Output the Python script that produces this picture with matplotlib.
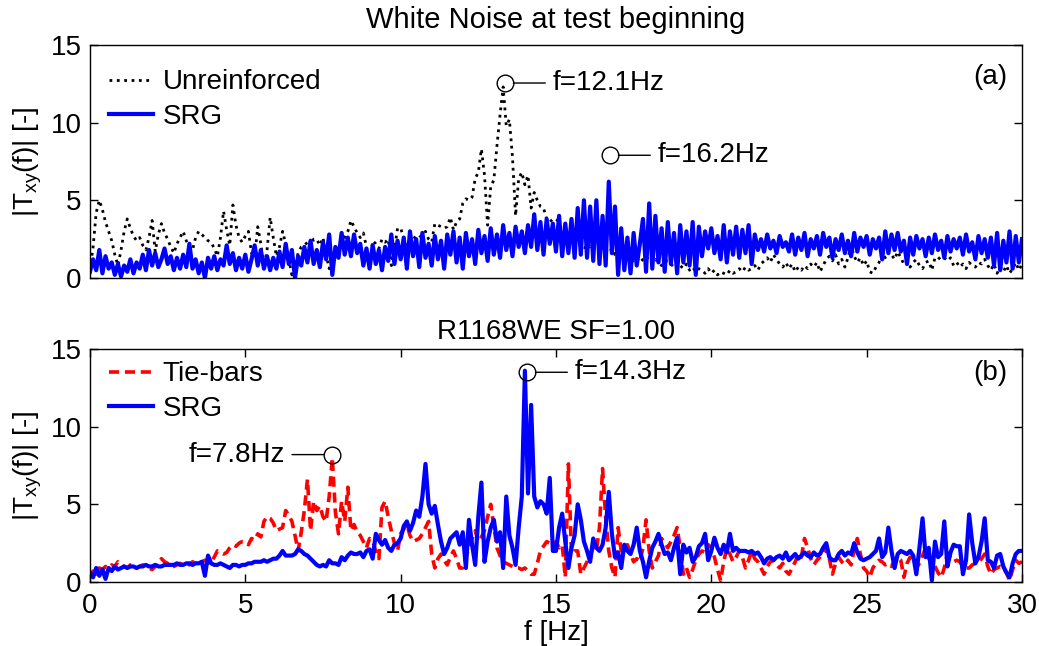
import numpy as np
import matplotlib
matplotlib.use("Agg")
import matplotlib.pyplot as plt

plt.rcParams["font.family"] = ["Liberation Sans", "DejaVu Sans"]
plt.rcParams["mathtext.fontset"] = "custom"
plt.rcParams["mathtext.rm"] = "Liberation Sans"

FS = 20

# ── Data: |Txy(f)| sampled every 0.1 Hz, 0 … 30 Hz (one row per Hz) ──
FREQ_STEP = 0.1

top_unreinforced = [
    0.5, 2.0, 4.2, 5.0, 4.4, 3.6, 3.0, 2.4, 1.5, 0.8,
    1.8, 3.0, 3.8, 3.2, 2.7, 2.4, 2.6, 2.1, 1.8, 2.6,
    3.7, 1.7, 2.8, 3.5, 2.9, 2.5, 2.0, 1.6, 2.2, 2.6,
    3.0, 2.4, 2.0, 1.8, 2.6, 3.0, 2.8, 2.6, 2.4, 2.3,
    1.9, 1.4, 2.6, 4.3, 3.1, 2.1, 4.7, 3.4, 2.6, 2.3,
    2.7, 3.0, 1.6, 1.3, 3.3, 2.2, 0.7, 1.8, 3.9, 2.6,
    1.4, 2.0, 3.0, 2.2, 1.2, 0.2, 0.8, 1.6, 2.0, 2.1,
    2.3, 2.0, 2.5, 2.5, 2.1, 2.6, 1.5, 0.6, 1.2, 1.9,
    1.9, 2.3, 2.6, 3.0, 3.7, 3.3, 2.9, 2.6, 2.9, 2.0,
    0.6, 2.4, 2.2, 1.9, 2.5, 2.3, 2.5, 0.8, 1.8, 3.2,
    3.2, 2.6, 2.1, 2.2, 2.7, 2.5, 2.6, 2.8, 3.0, 2.5,
    2.3, 3.5, 3.4, 3.3, 3.2, 3.3, 3.9, 3.1, 3.6, 3.8,
    4.8, 5.1, 5.0, 5.2, 6.4, 6.8, 8.3, 6.6, 3.4, 5.9,
    6.3, 8.5, 10.5, 12.3, 9.8, 10.2, 7.8, 4.0, 6.4, 6.8,
    6.0, 6.6, 4.5, 5.5, 5.0, 4.6, 4.5, 3.8, 3.6, 3.8,
    3.8, 3.6, 3.0, 2.6, 2.8, 2.4, 2.2, 2.6, 2.0, 1.8,
    2.2, 2.0, 2.4, 2.6, 2.3, 2.0, 1.8, 1.6, 1.9, 1.5,
    1.4, 1.6, 1.3, 1.2, 1.5, 1.1, 1.3, 1.0, 1.2, 1.4,
    1.1, 0.9, 1.2, 1.0, 0.8, 1.1, 1.1, 0.9, 0.7, 1.0,
    0.8, 0.6, 0.9, 0.5, 0.7, 0.4, 0.6, 0.5, 0.3, 0.6,
    0.3, 0.5, 0.2, 0.4, 0.3, 0.2, 0.5, 0.3, 0.4, 0.6,
    0.4, 0.7, 0.5, 0.6, 0.8, 0.5, 0.9, 1.1, 1.3, 1.0,
    1.5, 1.2, 0.9, 0.7, 1.0, 0.6, 0.9, 0.4, 0.7, 0.5,
    0.8, 0.6, 0.9, 0.7, 1.0, 0.4, 0.8, 1.2, 1.4, 1.1,
    1.5, 0.9, 1.2, 0.7, 1.3, 2.1, 1.4, 1.0, 1.3, 0.8,
    1.1, 0.4, 0.3, 0.7, 1.0, 1.6, 1.3, 1.7, 1.5, 1.2,
    1.7, 1.3, 0.9, 1.1, 0.7, 1.0, 1.2, 0.8, 0.6, 1.0,
    1.1, 0.5, 1.3, 1.2, 1.4, 1.3, 1.1, 1.3, 0.8, 1.0,
    0.7, 0.9, 0.6, 1.0, 0.8, 0.7, 1.0, 0.9, 1.2, 0.8,
    0.5, 0.9, 0.3, 0.7, 0.4, 0.8, 0.3, 0.6, 1.0, 0.5,
    0.9,
]

top_srg = [
    0.4, 1.2, 0.5, 1.8, 0.3, 1.4, 0.6, 1.0, 0.2, 0.9,
    0.1, 0.8, 0.4, 1.2, 0.3, 1.0, 0.6, 1.5, 0.5, 1.8,
    0.8, 1.6, 0.7, 1.2, 1.9, 0.9, 1.4, 0.5, 1.3, 0.6,
    1.5, 0.7, 2.2, 0.6, 1.2, 0.3, 1.0, 0.0, 1.3, 0.6,
    1.4, 0.5, 1.2, 0.8, 2.1, 0.9, 1.6, 0.5, 1.3, 0.6,
    1.5, 0.4, 1.2, 2.1, 0.8, 1.8, 0.6, 1.4, 0.5, 1.3,
    0.6, 1.7, 0.7, 2.2, 0.9, 1.8, 0.0, 1.4, 0.8, 2.0,
    1.0, 2.4, 0.9, 1.8, 0.7, 2.3, 1.2, 2.8, 0.2, 2.0,
    1.3, 2.9, 1.5, 2.6, 1.4, 2.8, 1.6, 2.2, 0.8, 1.9,
    0.6, 2.1, 0.9, 1.8, 0.5, 2.0, 1.1, 2.8, 0.9, 2.4,
    1.2, 2.6, 0.6, 3.0, 1.4, 2.5, 0.7, 2.9, 1.3, 2.2,
    0.8, 2.7, 1.2, 2.4, 0.6, 2.8, 1.5, 3.0, 1.0, 2.6,
    0.6, 2.9, 1.4, 2.5, 0.9, 3.1, 1.6, 2.7, 1.1, 3.2,
    1.5, 2.8, 1.3, 3.4, 1.8, 2.9, 1.4, 3.3, 2.0, 3.0,
    1.6, 3.4, 2.0, 4.1, 1.8, 3.6, 1.5, 3.8, 2.2, 3.5,
    1.7, 4.0, 1.4, 3.5, 1.6, 3.8, 1.3, 4.5, 1.5, 5.0,
    1.3, 4.6, 1.1, 5.0, 0.9, 4.0, 0.8, 6.2, 1.6, 4.6,
    0.2, 3.2, 0.5, 2.6, 0.3, 2.9, 0.8, 2.2, 3.8, 0.4,
    4.8, 0.6, 4.0, 1.0, 3.2, 0.4, 3.6, 0.9, 2.9, 0.3,
    3.4, 1.0, 3.0, 0.8, 3.6, 0.2, 3.3, 1.4, 3.0, 1.9,
    3.2, 1.6, 2.7, 1.2, 3.4, 1.0, 3.0, 1.5, 3.3, 1.3,
    3.1, 1.6, 3.4, 0.9, 2.8, 1.8, 2.5, 1.7, 2.8, 1.9,
    2.4, 1.6, 2.7, 2.0, 2.3, 1.7, 2.8, 1.5, 2.6, 1.8,
    2.9, 1.4, 2.5, 1.9, 2.7, 1.5, 2.9, 2.0, 2.6, 1.3,
    2.5, 1.8, 2.8, 1.6, 2.4, 1.4, 2.9, 1.7, 2.6, 2.0,
    2.7, 1.5, 2.5, 1.9, 2.6, 1.2, 3.0, 1.6, 2.8, 1.8,
    2.9, 1.7, 2.4, 0.9, 2.6, 1.5, 2.7, 1.9, 2.5, 1.4,
    2.6, 1.6, 2.8, 1.8, 2.4, 1.3, 2.7, 1.7, 2.5, 1.9,
    2.6, 1.5, 2.8, 1.7, 2.3, 1.2, 2.7, 1.6, 2.5, 1.3,
    2.6, 0.8, 2.9, 0.5, 2.4, 1.0, 3.0, 0.6, 2.7, 1.0,
    2.5,
]

bot_tiebars = [
    0.4, 0.7, 0.5, 0.9, 0.8, 1.0, 0.9, 1.1, 1.0, 1.3,
    1.1, 1.0, 0.9, 1.1, 1.0, 0.9, 1.0, 1.1, 1.0, 0.9,
    0.8, 1.0, 1.1, 1.5, 1.3, 1.2, 1.1, 1.0, 1.1, 1.2,
    1.1, 1.2, 1.1, 1.3, 1.2, 1.1, 1.3, 1.4, 1.2, 1.3,
    1.6, 2.0, 1.9, 1.8, 1.9, 2.2, 2.4, 2.3, 2.5, 2.6,
    2.6, 2.4, 2.8, 2.7, 3.1, 2.9, 3.9, 4.2, 4.1, 3.8,
    3.3, 3.4, 3.5, 4.6, 4.3, 3.9, 3.0, 2.0, 3.2, 4.6,
    6.6, 3.3, 5.2, 4.6, 4.9, 4.2, 3.9, 5.5, 8.0, 4.5,
    3.1, 5.2, 3.9, 6.1, 3.3, 3.7, 3.2, 3.0, 2.6, 2.2,
    2.8, 2.6, 2.0, 1.5, 4.8, 5.2, 4.2, 3.3, 2.5, 2.0,
    3.1, 3.4, 3.7, 3.0, 2.6, 2.7, 2.8, 3.1, 3.5, 3.9,
    1.8, 0.9, 1.5, 1.8, 1.4, 1.1, 1.6, 2.0, 1.5, 0.9,
    0.9, 1.6, 2.2, 2.8, 3.3, 2.6, 2.9, 3.3, 4.2, 5.0,
    3.6, 2.2, 1.7, 1.3, 1.2, 1.1, 1.0, 0.9, 0.9, 0.8,
    0.9, 0.7, 0.5, 0.5, 1.2, 2.0, 2.3, 2.6, 2.5, 2.4,
    2.6, 2.2, 2.4, 0.3, 7.6, 1.8, 2.0, 2.0, 0.5, 0.9,
    1.3, 1.7, 2.2, 2.0, 3.5, 7.3, 4.1, 2.0, 0.9, 0.3,
    3.5, 2.0, 2.2, 2.4, 1.8, 1.3, 1.5, 1.3, 2.2, 4.0,
    2.0, 0.9, 1.3, 1.7, 2.8, 2.5, 2.2, 2.6, 3.0, 3.5,
    2.2, 0.5, 0.9, 0.3, 0.8, 1.4, 1.8, 2.0, 1.9, 2.4,
    2.2, 1.6, 0.8, 0.1, 1.3, 2.2, 1.8, 1.3, 1.6, 2.0,
    1.6, 0.9, 1.4, 2.0, 1.5, 1.3, 0.9, 0.5, 1.0, 1.3,
    1.4, 1.1, 0.9, 1.2, 0.7, 0.5, 0.9, 1.3, 1.8, 1.6,
    2.8, 2.2, 1.5, 1.1, 1.4, 1.6, 1.8, 2.2, 1.5, 0.5,
    1.2, 1.6, 1.3, 1.1, 1.4, 1.1, 2.1, 2.8, 1.8, 0.9,
    0.7, 0.3, 0.9, 1.2, 1.4, 1.3, 1.1, 1.2, 1.0, 1.4,
    1.6, 1.4, 0.3, 1.2, 1.6, 1.3, 0.9, 1.2, 1.7, 2.2,
    1.5, 1.3, 1.0, 0.6, 0.3, 0.9, 1.8, 1.6, 1.3, 1.4,
    1.3, 1.0, 0.9, 0.9, 1.1, 1.2, 1.3, 1.5, 1.8, 1.0,
    0.5, 0.8, 0.9, 1.0, 0.9, 0.6, 0.1, 0.8, 1.4, 1.2,
    1.3,
]

bot_srg = [
    0.6, 0.3, 0.9, 0.4, 0.8, 0.2, 0.9, 0.7, 1.0, 0.8,
    0.9, 1.0, 0.9, 1.0, 1.0, 0.9, 1.0, 1.0, 1.1, 1.0,
    1.0, 1.1, 1.0, 1.0, 1.1, 1.1, 1.1, 1.1, 1.2, 1.1,
    1.1, 1.2, 1.2, 1.1, 1.2, 1.2, 1.3, 0.4, 1.7, 1.2,
    1.1, 1.1, 1.2, 1.1, 1.0, 0.9, 1.1, 1.1, 1.0, 1.1,
    1.1, 1.2, 1.2, 1.3, 1.3, 1.3, 1.4, 1.3, 1.4, 1.5,
    1.5, 1.7, 2.0, 1.7, 1.7, 1.7, 1.8, 2.1, 2.0, 1.8,
    1.7, 1.5, 1.3, 1.1, 1.0, 1.1, 1.0, 1.4, 1.2, 1.2,
    1.1, 1.6, 1.4, 1.7, 1.9, 1.8, 1.8, 1.9, 1.6, 2.0,
    2.1, 1.5, 3.1, 2.7, 2.4, 2.7, 2.2, 2.0, 2.4, 2.5,
    2.8, 3.6, 3.9, 3.3, 3.8, 4.6, 4.2, 5.5, 7.6, 5.0,
    4.4, 4.9, 3.7, 2.6, 1.8, 2.2, 2.8, 3.0, 3.2, 2.4,
    3.2, 0.9, 4.0, 2.4, 1.1, 4.2, 6.4, 1.3, 2.6, 3.5,
    4.0, 2.6, 3.2, 0.9, 5.5, 3.0, 2.2, 1.1, 3.5, 5.5,
    13.6, 5.7, 11.4, 5.5, 4.8, 5.2, 5.0, 4.4, 6.7, 2.0,
    2.0, 3.5, 4.4, 2.6, 0.9, 2.2, 3.0, 5.0, 4.0, 2.6,
    2.0, 1.3, 2.8, 2.2, 2.0, 2.4, 3.5, 5.8, 3.1, 1.6,
    1.9, 0.9, 2.4, 2.0, 1.8, 2.4, 3.5, 2.0, 1.3, 0.3,
    1.35, 2.2, 2.6, 3.1, 2.4, 1.8, 1.9, 1.4, 2.2, 2.85,
    0.5, 2.4, 1.9, 2.2, 1.3, 1.6, 2.3, 2.5, 3.1, 1.4,
    2.0, 2.85, 2.2, 1.8, 2.4, 1.9, 3.1, 2.0, 2.2, 2.0,
    2.0, 2.0, 1.9, 2.0, 1.8, 1.9, 1.6, 1.2, 1.5, 1.6,
    1.4, 1.6, 1.7, 1.5, 1.9, 1.4, 1.6, 1.8, 1.5, 1.7,
    1.9, 1.7, 1.6, 1.9, 1.7, 1.8, 2.2, 2.5, 1.6, 1.4,
    1.4, 1.8, 2.0, 1.7, 1.9, 1.8, 2.5, 1.9, 1.5, 1.4,
    1.5, 1.6, 1.8, 2.0, 2.8, 1.6, 1.9, 3.5, 2.0, 0.9,
    1.8, 2.0, 1.9, 1.8, 2.0, 1.7, 0.5, 2.2, 4.1, 1.6,
    2.2, 0.1, 2.6, 1.6, 1.8, 3.9, 1.0, 1.9, 2.4, 2.3,
    2.3, 0.5, 1.4, 4.35, 2.5, 1.2, 1.6, 2.6, 4.1, 1.4,
    1.3, 0.9, 1.7, 1.8, 1.0, 0.6, 0.3, 1.2, 1.8, 2.0,
    2.0,
]

# annotated peaks: (f, |Txy|, label, side)
top_peaks = [(13.36, 12.55, "f=12.1Hz", "right"), (16.74, 7.9, "f=16.2Hz", "right")]
bot_peaks = [(14.07, 13.5, "f=14.3Hz", "right"), (7.80, 8.2, "f=7.8Hz", "left")]

freq = np.arange(len(top_srg)) * FREQ_STEP

BLUE = "#0000ff"
RED = "#ff0000"


def mark_peak(ax, x, y, label, side):
    ax.plot([x], [y], "o", ms=12, mfc="none", mec="k", mew=1.0, zorder=6)
    right = side == "right"
    ax.annotate(label, xy=(x, y), xytext=(34 if right else -34, 0),
                textcoords="offset points", ha="left" if right else "right",
                va="center", fontsize=FS, zorder=6,
                arrowprops=dict(arrowstyle="-", lw=1.0, color="k",
                                shrinkA=3, shrinkB=6,
                                relpos=(0, 0.5) if right else (1, 0.5)))


def style_axes(ax, show_x):
    ax.set_xlim(0, 30)
    ax.set_ylim(0, 15)
    ax.set_yticks([0, 5, 10, 15])
    ax.set_xticks(range(0, 31, 5))
    ax.tick_params(axis="y", direction="in", length=6, width=1, left=True,
                   right=True, labelsize=FS, pad=6)
    ax.tick_params(axis="x", direction="in", length=6, width=1,
                   bottom=show_x, top=show_x, labelbottom=show_x,
                   labelsize=FS, pad=8)
    for sp in ax.spines.values():
        sp.set_linewidth(1.0)
    ax.set_ylabel(r"|T$_\mathregular{xy}$(f)| [-]", fontsize=FS, labelpad=5)


fig = plt.figure(figsize=(10.39, 6.46), dpi=100)
ax1 = fig.add_axes([0.0866, 0.5697, 0.8970, 0.3607])
ax2 = fig.add_axes([0.0866, 0.0991, 0.8970, 0.3607])

# ── (a) white noise at test beginning ──
ax1.plot(freq, top_unreinforced, color="k", ls=":", lw=2.0, label="Unreinforced")
ax1.plot(freq, top_srg, color=BLUE, lw=3.0, label="SRG")
style_axes(ax1, show_x=False)
ax1.set_title("White Noise at test beginning", fontsize=21, pad=12)
ax1.legend(loc="upper left", bbox_to_anchor=(0.02, 0.895), borderaxespad=0,
           borderpad=0, frameon=False, fontsize=FS, handlelength=1.6,
           handletextpad=0.35, labelspacing=0.3)
ax1.text(0.984, 0.863, "(a)", transform=ax1.transAxes, ha="right",
         va="center", fontsize=FS)
for x, y, lab, side in top_peaks:
    mark_peak(ax1, x, y, lab, side)

# ── (b) R1168WE ──
ax2.plot(freq, bot_tiebars, color=RED, ls=(0, (2.8, 1.6)), lw=2.6, label="Tie-bars")
ax2.plot(freq, bot_srg, color=BLUE, lw=3.0, label="SRG")
style_axes(ax2, show_x=True)
ax2.set_title("R1168WE SF=1.00", fontsize=FS, pad=7)
ax2.set_xlabel("f [Hz]", fontsize=FS, labelpad=1)
ax2.legend(loc="upper left", bbox_to_anchor=(0.02, 0.947), borderaxespad=0,
           borderpad=0, frameon=False, fontsize=FS, handlelength=1.6,
           handletextpad=0.35, labelspacing=0.3)
ax2.text(0.984, 0.897, "(b)", transform=ax2.transAxes, ha="right",
         va="center", fontsize=FS)
for x, y, lab, side in bot_peaks:
    mark_peak(ax2, x, y, lab, side)

fig.savefig("out.png", dpi=100, facecolor="white")
